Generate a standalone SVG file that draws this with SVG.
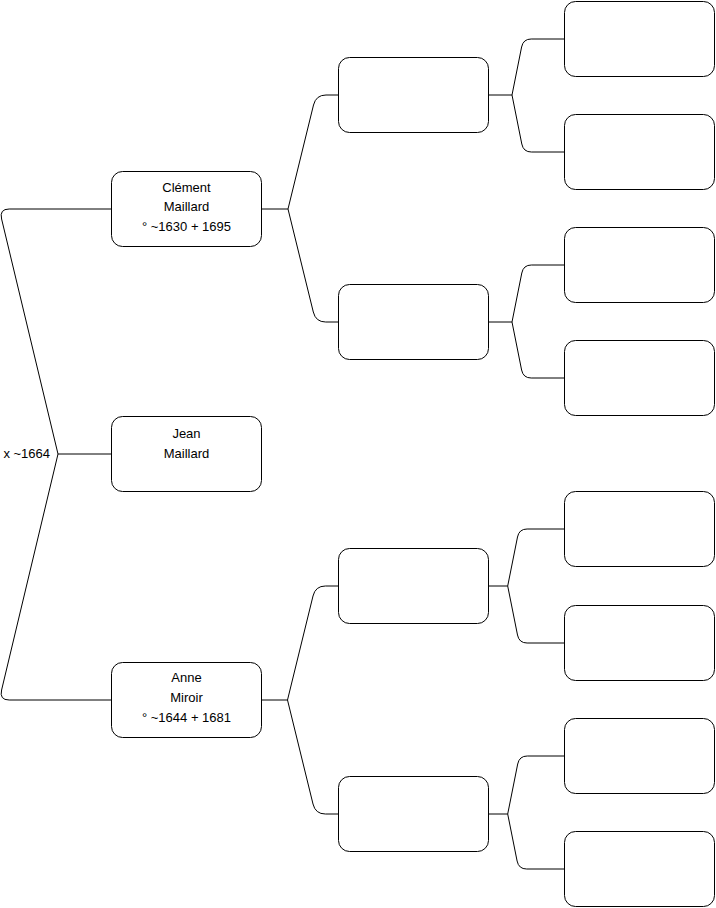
<svg xmlns="http://www.w3.org/2000/svg" width="716" height="908" viewBox="0 0 716 908">
<style>
.box{fill:#fff;stroke:#000;stroke-width:1}
.edge{fill:none;stroke:#000;stroke-width:1}
text{font-family:"Liberation Sans",Arial,Helvetica,sans-serif;font-size:13px;fill:#000;text-anchor:middle}
</style>
<rect width="716" height="908" fill="#fff"/>
<g id="connectors">
<path class="edge" d="M111.5,454 H58"/>
<path class="edge" d="M111.5,209 H9.2 Q-0.8,209 1.6,219 L58,454"/>
<path class="edge" d="M111.5,700 H9.2 Q-0.8,700 1.6,690 L58,454"/>
<path class="edge" d="M261.5,209 H288 L313.5,105 Q316,95 326,95 H338.5"/>
<path class="edge" d="M288,209 L313.3,312 Q315.7,322 325.7,322 H338.5"/>
<path class="edge" d="M261.5,700 H287.5 L313,596 Q315.4,586 325.4,586 H338.5"/>
<path class="edge" d="M287.5,700 L313,804 Q315.4,814 325.4,814 H338.5"/>
<path class="edge" d="M488.5,95 H512 L521.6,47 Q523.2,39 531.2,39 H564.5"/>
<path class="edge" d="M512,95 L521.8,144 Q523.4,152 531.4,152 H564.5"/>
<path class="edge" d="M488.5,322 H512 L521.8,273 Q523.4,265 531.4,265 H564.5"/>
<path class="edge" d="M512,322 L521.6,370 Q523.2,378 531.2,378 H564.5"/>
<path class="edge" d="M488.5,586 H507.7 L517.5,537 Q519.1,529 527.1,529 H564.5"/>
<path class="edge" d="M507.7,586 L517.5,635 Q519.1,643 527.1,643 H564.5"/>
<path class="edge" d="M488.5,814 H507.7 L517.7,764 Q519.3,756 527.3,756 H564.5"/>
<path class="edge" d="M507.7,814 L517.1,861 Q518.7,869 526.7,869 H564.5"/>
<text x="50" y="458" style="text-anchor:end">x ~1664</text>
</g>
<g id="clement"><rect class="box" x="111.5" y="171.5" width="150" height="75" rx="11"/>
<text x="186.5" y="191.5">Clément</text><text x="186.5" y="211">Maillard</text><text x="186.5" y="230.5">° ~1630 + 1695</text></g>
<g id="jean"><rect class="box" x="111.5" y="416.5" width="150" height="75" rx="11"/>
<text x="186.5" y="438">Jean</text><text x="186.5" y="458">Maillard</text></g>
<g id="anne"><rect class="box" x="111.5" y="662.5" width="150" height="75" rx="11"/>
<text x="186.5" y="682">Anne</text><text x="186.5" y="702">Miroir</text><text x="186.5" y="721.5">° ~1644 + 1681</text></g>
<g id="g2a"><rect class="box" x="338.5" y="57.5" width="150" height="75" rx="11"/></g>
<g id="g2b"><rect class="box" x="338.5" y="284.5" width="150" height="75" rx="11"/></g>
<g id="g2c"><rect class="box" x="338.5" y="548.5" width="150" height="75" rx="11"/></g>
<g id="g2d"><rect class="box" x="338.5" y="776.5" width="150" height="75" rx="11"/></g>
<g id="g3a"><rect class="box" x="564.5" y="1.5" width="150" height="75" rx="11"/></g>
<g id="g3b"><rect class="box" x="564.5" y="114.5" width="150" height="75" rx="11"/></g>
<g id="g3c"><rect class="box" x="564.5" y="227.5" width="150" height="75" rx="11"/></g>
<g id="g3d"><rect class="box" x="564.5" y="340.5" width="150" height="75" rx="11"/></g>
<g id="g3e"><rect class="box" x="564.5" y="491.5" width="150" height="75" rx="11"/></g>
<g id="g3f"><rect class="box" x="564.5" y="605.5" width="150" height="75" rx="11"/></g>
<g id="g3g"><rect class="box" x="564.5" y="718.5" width="150" height="75" rx="11"/></g>
<g id="g3h"><rect class="box" x="564.5" y="831.5" width="150" height="75" rx="11"/></g>
</svg>
